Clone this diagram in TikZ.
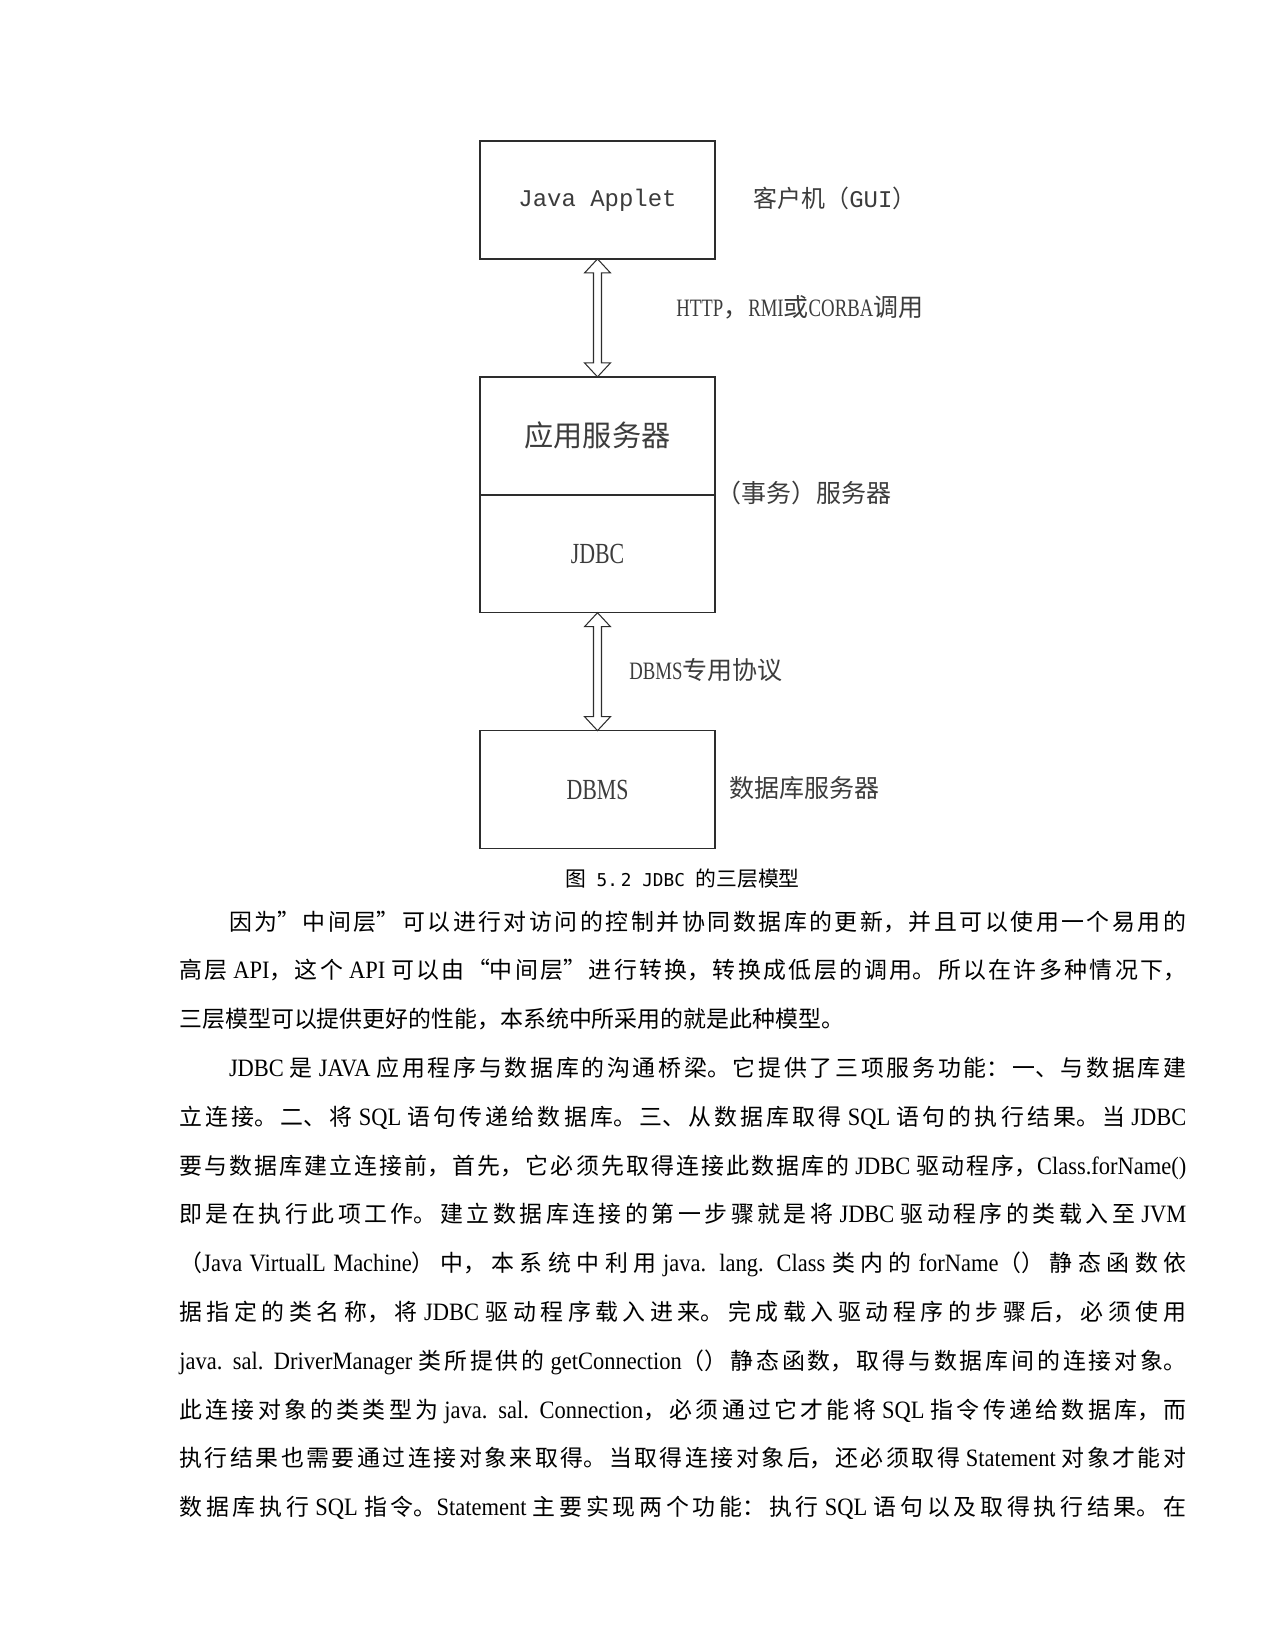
\documentclass[tikz,border=0pt]{standalone}
\usepackage{fontspec}
\usepackage{xcolor}
\usepackage{tikz}
\usetikzlibrary{positioning, calc}
\setmainfont{Noto Sans CJK SC}
\newfontfamily\tnr[FakeStretch=0.9, Scale=1.09]{Liberation Serif}
\newfontfamily\narrow[FakeStretch=0.75]{Liberation Serif}
\newfontfamily\lmono{Liberation Mono}
\newfontfamily\cmono{DejaVu Sans Mono}
\XeTeXlinebreaklocale "zh"
\XeTeXlinebreakskip=0pt plus 4pt minus 0.5pt
\tolerance=10000
\hbadness=10000
\newcommand\fullline{\noindent\leftskip=0pt\rightskip=0pt\parfillskip=0pt\relax}
\definecolor{boxColor}{RGB}{45, 45, 45}
\definecolor{labelColor}{RGB}{60, 60, 60}

\begin{document}
\begin{tikzpicture}[x=0.48pt, y=-0.48pt,
	tierbox/.style={draw=boxColor, line width=0.7pt, minimum width=113pt, minimum height=56.6pt, inner sep=0pt, outer sep=0pt, text=labelColor},
	flowarrow/.style={draw=boxColor, line width=0.5pt, fill=white, line join=miter},
	sidelabel/.style={anchor=west, inner sep=0pt, text=labelColor},
	bodyfirst/.style={anchor=base west, inner sep=0pt, text width=483.3pt, align=justify, font=\fontsize{11pt}{14pt}\selectfont, execute at begin node=\noindent},
	bodyline/.style={bodyfirst, execute at begin node=\fullline}]
	% Page
	\useasboundingbox[fill=white] (0,0) rectangle (1275,1650);
	
	% Tiers
	\node[tierbox, font=\lmono\fontsize{11.5pt}{14pt}\selectfont] (applet) at (597.5,200) {Java Applet};
	\node[tierbox, below=56.6pt of applet, font=\fontsize{14pt}{16pt}\selectfont] (app) {应用服务器};
	\node[tierbox, below=0pt of app, font=\narrow\fontsize{14pt}{16pt}\selectfont] (jdbc) {JDBC};
	\node[tierbox, below=56.6pt of jdbc, font=\narrow\fontsize{14pt}{16pt}\selectfont] (dbms) {DBMS};
	
	% Hollow double arrows between the tiers
	\draw[flowarrow] (applet.south) -- ++(-13,14) -- ++(9,0) -- ($(app.north)+(-4,-14)$) -- ++(-9,0) -- (app.north) -- ++(13,-14) -- ++(-9,0) -- ($(applet.south)+(4,14)$) -- ++(9,0) -- cycle;
	\draw[flowarrow] (jdbc.south) -- ++(-13,14) -- ++(9,0) -- ($(dbms.north)+(-4,-14)$) -- ++(-9,0) -- (dbms.north) -- ++(13,-14) -- ++(-9,0) -- ($(jdbc.south)+(4,14)$) -- ++(9,0) -- cycle;
	
	% Side labels
	\node[sidelabel, font=\fontsize{11.5pt}{14pt}\selectfont] (client) at (753,198) {客户机（{\lmono GUI}）};
	\node[sidelabel, font=\fontsize{12pt}{14pt}\selectfont] (http) at (676,307) {{\narrow HTTP}，{\narrow RMI}或{\narrow CORBA}调用};
	\node[sidelabel, font=\fontsize{12pt}{14pt}\selectfont] (txn) at (716,493) {（事务）服务器};
	\node[sidelabel, font=\fontsize{12pt}{14pt}\selectfont] (proto) at (629,670) {{\narrow DBMS}专用协议};
	\node[sidelabel, font=\fontsize{12pt}{14pt}\selectfont] (dbserver) at (729,788) {数据库服务器};
	
	% Caption
	\node[inner sep=0pt, font=\fontsize{10pt}{12pt}\selectfont] (caption) at (682.5,879) {图{\cmono\fontsize{8.5pt}{12pt}\selectfont{} 5.\,2 JDBC }的三层模型};
	
	% Body text, one node per printed line
	\node[bodyline] (l1) at (179,930) {\hspace*{23.8pt}因为”中间层”可以进行对访问的控制并协同数据库的更新，并且可以使用一个易用的};
	\node[bodyline] (l2) at (179,978.8) {高层 {\tnr API}，这个 {\tnr API} 可以由“中间层”进行转换，转换成低层的调用。所以在许多种情况下，};
	\node[bodyfirst] (l3) at (179,1027.6) {三层模型可以提供更好的性能，本系统中所采用的就是此种模型。};
	\node[bodyline] (l4) at (179,1076.4) {\hspace*{23.8pt}{\tnr JDBC} 是 {\tnr JAVA} 应用程序与数据库的沟通桥梁。它提供了三项服务功能：一、与数据库建};
	\node[bodyline] (l5) at (179,1125.2) {立连接。二、将 {\tnr SQL} 语句传递给数据库。三、从数据库取得 {\tnr SQL} 语句的执行结果。当 {\tnr JDBC}};
	\node[bodyline] (l6) at (179,1174) {要与数据库建立连接前，首先，它必须先取得连接此数据库的 {\tnr JDBC} 驱动程序，{\tnr Class.forName()}};
	\node[bodyline] (l7) at (179,1222.8) {即是在执行此项工作。建立数据库连接的第一步骤就是将 {\tnr JDBC} 驱动程序的类载入至 {\tnr JVM}};
	\node[bodyline] (l8) at (179,1271.6) {（{\tnr Java VirtualL Machine}）中，本系统中利用 {\tnr java. lang. Class} 类内的 {\tnr forName}（）静态函数依};
	\node[bodyline] (l9) at (179,1320.4) {据指定的类名称，将 {\tnr JDBC} 驱动程序载入进来。完成载入驱动程序的步骤后，必须使用};
	\node[bodyline] (l10) at (179,1369.2) {{\tnr java. sal. DriverManager} 类所提供的 {\tnr getConnection}（）静态函数，取得与数据库间的连接对象。};
	\node[bodyline] (l11) at (179,1418) {此连接对象的类类型为 {\tnr java. sal. Connection}，必须通过它才能将 {\tnr SQL} 指令传递给数据库，而};
	\node[bodyline] (l12) at (179,1466.8) {执行结果也需要通过连接对象来取得。当取得连接对象后，还必须取得 {\tnr Statement} 对象才能对};
	\node[bodyline] (l13) at (179,1515.6) {数据库执行 {\tnr SQL} 指令。{\tnr Statement} 主要实现两个功能：执行 {\tnr SQL} 语句以及取得执行结果。在};
\end{tikzpicture}
\end{document}
